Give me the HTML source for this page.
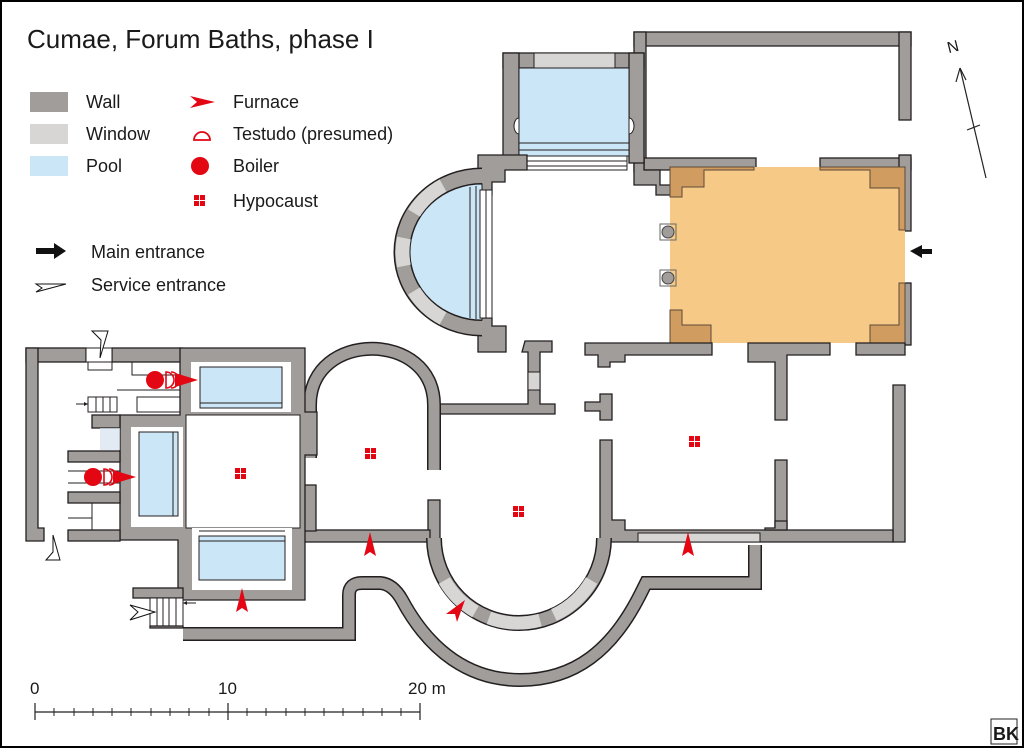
<!DOCTYPE html>
<html><head><meta charset="utf-8"><style>
html,body{margin:0;padding:0;background:#fff}
svg{display:block}
text{font-family:"Liberation Sans",sans-serif;fill:#1a1a1a}
.w{fill:#a19d9b;stroke:#231f20;stroke-width:1.3}
.win{fill:#d7d6d5;stroke:#231f20;stroke-width:1}
.p{fill:#cbe6f6;stroke:#231f20;stroke-width:1}
.wh{fill:#fff;stroke:#231f20;stroke-width:1}
.ln{stroke:#231f20;stroke-width:1;fill:none}
.r{fill:#e30613}
</style></head><body>
<svg width="1024" height="748" viewBox="0 0 1024 748" xmlns="http://www.w3.org/2000/svg">
<rect x="1" y="1" width="1022" height="746" fill="#fff" stroke="#000" stroke-width="2"/>
<text x="27" y="48" font-size="26">Cumae, Forum Baths, phase I</text>

<!-- legend -->
<rect x="30" y="92" width="38" height="20" fill="#a19d9b"/>
<rect x="30" y="124" width="38" height="20" fill="#d7d6d5"/>
<rect x="30" y="156" width="38" height="20" fill="#cbe6f6"/>
<text x="86" y="108" font-size="18">Wall</text>
<text x="86" y="140" font-size="18">Window</text>
<text x="86" y="172" font-size="18">Pool</text>
<path d="M190,96 L215,102 L190,108 L197,102 Z" class="r"/>
<path d="M194,140 A8,8 0 0 1 210,140 Z" fill="none" stroke="#e30613" stroke-width="1.8"/>
<circle cx="200" cy="166" r="9" class="r"/>
<g class="r"><rect x="194" y="195" width="5" height="5"/><rect x="200" y="195" width="5" height="5"/><rect x="194" y="201" width="5" height="5"/><rect x="200" y="201" width="5" height="5"/></g>
<text x="233" y="108" font-size="18">Furnace</text>
<text x="233" y="140" font-size="18">Testudo (presumed)</text>
<text x="233" y="172" font-size="18">Boiler</text>
<text x="233" y="207" font-size="18">Hypocaust</text>
<path d="M36,248 L54,248 L54,243 L66,251 L54,259 L54,254 L36,254 Z" fill="#111"/>
<text x="91" y="258" font-size="18">Main entrance</text>
<path d="M36,284 L66,284 L36,292 L42,288 Z" fill="#fff" stroke="#111" stroke-width="1"/>
<text x="91" y="291" font-size="18">Service entrance</text>

<!-- top right building -->
<rect class="w" x="634" y="32" width="277" height="14"/>
<rect class="w" x="899" y="32" width="12" height="88"/>
<rect class="w" x="634" y="32" width="12" height="140"/>
<rect class="w" x="644" y="158" width="112" height="12"/>
<rect class="w" x="820" y="158" width="91" height="12"/>
<rect class="w" x="899" y="155" width="12" height="76"/>
<rect class="w" x="899" y="283" width="12" height="62"/>
<path class="w" d="M634,160 L644,160 L644,170 L660,170 L660,185 L672,185 L672,195 L656,195 L656,185 L634,185 Z"/>

<!-- pool room top -->
<rect class="w" x="503" y="53" width="141" height="15"/>
<rect class="win" x="534" y="53" width="81" height="15"/>
<rect class="w" x="503" y="53" width="16" height="110"/>
<rect class="w" x="629" y="53" width="15" height="110"/>
<rect class="p" x="519" y="68" width="110" height="88"/>
<path class="ln" d="M519,143 L629,143 M519,150 L629,150"/>
<rect class="wh" x="527" y="156" width="100" height="14"/>
<path class="ln" d="M527,161 L627,161 M527,166 L627,166"/>
<path d="M519,118 A5,8 0 0 0 519,134 Z" fill="#fff" stroke="#231f20"/>
<path d="M629,118 A5,8 0 0 1 629,134 Z" fill="#fff" stroke="#231f20"/>
<path class="w" d="M478,155 L527,155 L527,170 L505,170 L505,182 L492,182 L492,195 L478,195 Z"/>
<path class="w" d="M478,318 L492,318 L492,326 L506,326 L506,352 L478,352 Z"/>

<!-- left apse with pool -->
<path d="M482,176 A80,76 0 0 0 482,328" fill="none" stroke="#231f20" stroke-width="17"/>
<path d="M482,176 A80,76 0 0 0 482,328" fill="none" stroke="#a19d9b" stroke-width="14"/>
<g fill="none" stroke="#d7d6d5" stroke-width="14">
<path d="M443,185.5 A80,76 0 0 0 414,213"/>
<path d="M404,238 A80,76 0 0 0 404,266"/>
<path d="M414,291 A80,76 0 0 0 443,318.5"/>
</g>
<path class="p" d="M482,184 A72,68 0 0 0 482,320 Z"/>
<path class="ln" d="M470,187 L470,318 M476,186 L476,319"/>
<rect class="wh" x="480" y="190" width="12" height="128"/>
<path class="ln" d="M486,190 L486,318"/>

<!-- orange vestibule -->
<rect x="670" y="167" width="235" height="176" fill="#f7c987"/>
<g fill="#d19c5f" stroke="#5b4a3a" stroke-width="1">
<path d="M670,167 L754,167 L754,170 L704,170 L704,187 L682,187 L682,197 L670,197 Z"/>
<path d="M820,167 L905,167 L905,230 L899,230 L899,188 L870,188 L870,170 L820,170 Z"/>
<path d="M670,310 L682,310 L682,325 L711,325 L711,343 L670,343 Z"/>
<path d="M870,325 L899,325 L899,283 L905,283 L905,343 L870,343 Z"/>
</g>
<rect x="660" y="224" width="16" height="16" fill="none" stroke="#666"/>
<circle cx="668" cy="232" r="6" fill="#a19d9b" stroke="#444"/>
<rect x="660" y="270" width="16" height="16" fill="none" stroke="#666"/>
<circle cx="668" cy="278" r="6" fill="#a19d9b" stroke="#444"/>
<path d="M910,251 L922,245 L922,249 L932,249 L932,254 L922,254 L922,258 Z" fill="#111"/>

<!-- walls below hall -->
<path class="w" d="M525,341 L552,341 L552,352 L540,352 L540,404 L555,404 L555,414 L440,414 L440,404 L528,404 L528,352 L522,352 Z"/>
<rect class="win" x="528" y="372" width="12" height="18"/>
<path class="w" d="M585,343 L712,343 L712,355 L625,355 L625,362 L610,362 L610,367 L598,367 L598,355 L585,355 Z"/>
<path class="w" d="M748,343 L830,343 L830,355 L787,355 L787,362 L787,420 L775,420 L775,362 L748,362 Z"/>
<path class="w" d="M856,343 L905,343 L905,355 L856,355 Z"/>
<path class="w" d="M600,394 L612,394 L612,420 L600,420 L600,411 L585,411 L585,402 L600,402 Z"/>
<path class="w" d="M775,460 L787,460 L787,528 L775,528 Z"/>
<path class="w" d="M893,385 L905,385 L905,542 L893,542 Z"/>
<path class="w" d="M600,440 L612,440 L612,520 L625,520 L625,530 L893,530 L893,542 L600,542 Z"/>
<path class="w" d="M765,528 L775,528 L775,521 L787,521 L787,530 L765,530 Z"/>
<rect class="win" x="638" y="533" width="122" height="9"/>

<!-- rounded middle room -->
<path d="M310,458 L310,405 C310,330 434,330 434,405 L434,470" fill="none" stroke="#231f20" stroke-width="14"/>
<path d="M310,458 L310,405 C310,330 434,330 434,405 L434,470" fill="none" stroke="#a19d9b" stroke-width="11"/>
<rect class="w" x="428" y="500" width="12" height="45"/>
<rect class="w" x="300" y="530" width="130" height="12"/>
<path class="w" d="M300,485 L316,485 L316,531 L300,531 Z"/>

<!-- bottom apse -->
<path d="M434,538 A85,85 0 0 0 604,538" fill="none" stroke="#231f20" stroke-width="16"/>
<path d="M434,538 A85,85 0 0 0 604,538" fill="none" stroke="#a19d9b" stroke-width="13"/>
<g fill="none" stroke="#d7d6d5" stroke-width="13">
<path d="M475.5,611.6 A85,85 0 0 1 444.4,580.5"/>
<path d="M540,620.1 A85,85 0 0 1 488.9,617.9"/>
<path d="M591.6,580.5 A85,85 0 0 1 553.9,615"/>
</g>

<!-- outer corridor -->
<path d="M183,634 L349,634 L349,595 Q349,583 362,583 L380,583 Q393,584 402,600 C430,652 470,680 520,680 C575,680 612,650 640,595 L646,583 L755,583 L755,545" fill="none" stroke="#231f20" stroke-width="14"/>
<path d="M183,634 L349,634 L349,595 Q349,583 362,583 L380,583 Q393,584 402,600 C430,652 470,680 520,680 C575,680 612,650 640,595 L646,583 L755,583 L755,545" fill="none" stroke="#a19d9b" stroke-width="11"/>

<!-- left wing -->
<rect class="w" x="26" y="348" width="60" height="14"/>
<rect class="w" x="112" y="348" width="70" height="14"/>
<path class="w" d="M26,348 L38,348 L38,528 L44,528 L44,541 L26,541 Z"/>
<rect class="wh" x="86" y="348" width="26" height="14"/>
<rect class="wh" x="88" y="362" width="24" height="8"/>
<path class="w" d="M180,348 L305,348 L305,412 L317,412 L317,455 L305,455 L305,540 L305,600 L178,600 L178,540 L120,540 L120,415 L180,415 Z"/>
<rect x="191" y="362" width="100" height="50" fill="#fff"/>
<rect class="p" x="200" y="367" width="82" height="41"/>
<path class="ln" d="M200,403 L282,403"/>
<rect x="131" y="427" width="52" height="100" fill="#fff"/>
<rect class="p" x="139" y="432" width="39" height="84"/>
<path class="ln" d="M173,432 L173,516"/>
<rect class="wh" x="186" y="415" width="114" height="113"/>
<rect x="192" y="528" width="100" height="62" fill="#fff"/>
<rect class="p" x="199" y="536" width="86" height="44"/>
<path class="ln" d="M199,541 L285,541 M199,531 L285,531"/>
<rect class="w" x="92" y="415" width="28" height="13"/>
<rect class="w" x="68" y="451" width="52" height="11"/>
<rect class="w" x="68" y="492" width="52" height="11"/>
<rect class="w" x="68" y="530" width="52" height="11"/>
<rect x="100" y="428" width="20" height="22" fill="#d6e2f0" opacity=".7"/>
<path class="ln" d="M68,462 L120,462 M68,471 L120,471 M68,483 L120,483 M68,503 L92,503 L92,530 M68,518 L92,518"/>
<path class="ln" d="M132,362 L180,362 L180,375 L132,375 Z M117,390 L180,390 M137,397 L180,397 L180,412 L137,412 Z M88,397 L117,397 L117,412 L88,412 Z M96,397 L96,412 M103,397 L103,412 M110,397 L110,412"/>
<path class="ln" d="M76,404 L88,404"/><path d="M88,404 L84,402 L84,406 Z" fill="#231f20"/>
<rect class="w" x="133" y="588" width="50" height="10"/>
<rect class="wh" x="150" y="598" width="33" height="30"/>
<path class="ln" d="M157,598 L157,628 M163,598 L163,628 M169,598 L169,628 M176,598 L176,628"/>
<path class="w" d="M150,626 L183,626 L183,628 L150,628 Z"/>
<path class="ln" d="M183,603 L196,603"/><path d="M183,603 L187,601 L187,605 Z" fill="#231f20"/>
<!-- service entrances -->
<path d="M92,331 L108,331 L100,358 L101,340 Z" fill="#fff" stroke="#111"/>
<path d="M46,560 L60,560 L53,535 L53,552 Z" fill="#fff" stroke="#111"/>
<path d="M130,605 L155,612 L130,620 L138,612 Z" fill="#fff" stroke="#111"/>
<!-- boilers / furnaces -->
<circle cx="155" cy="380" r="9" class="r"/>
<path d="M166,372 A8,8 0 0 1 166,388 Z M171,372 A8,8 0 0 1 171,388" fill="none" stroke="#e30613" stroke-width="1.6"/>
<path d="M175,373 L198,380 L175,387 Z" class="r"/>
<circle cx="93" cy="477" r="9" class="r"/>
<path d="M104,469 A8,8 0 0 1 104,485 Z M109,469 A8,8 0 0 1 109,485" fill="none" stroke="#e30613" stroke-width="1.6"/>
<path d="M113,470 L136,477 L113,484 Z" class="r"/>
<path d="M370,532 L376,556 L370,552 L364,556 Z" class="r"/>
<path d="M688,532 L694,556 L688,552 L682,556 Z" class="r"/>
<path d="M242,588 L248,612 L242,608 L236,612 Z" class="r"/>
<path d="M465,600 L457,622 L455,614 L446,614 Z" class="r"/>

<!-- hypocausts -->
<g class="r">
<rect x="235" y="468" width="5" height="5"/><rect x="241" y="468" width="5" height="5"/><rect x="235" y="474" width="5" height="5"/><rect x="241" y="474" width="5" height="5"/>
<rect x="365" y="448" width="5" height="5"/><rect x="371" y="448" width="5" height="5"/><rect x="365" y="454" width="5" height="5"/><rect x="371" y="454" width="5" height="5"/>
<rect x="513" y="506" width="5" height="5"/><rect x="519" y="506" width="5" height="5"/><rect x="513" y="512" width="5" height="5"/><rect x="519" y="512" width="5" height="5"/>
<rect x="689" y="436" width="5" height="5"/><rect x="695" y="436" width="5" height="5"/><rect x="689" y="442" width="5" height="5"/><rect x="695" y="442" width="5" height="5"/>
</g>

<!-- scale -->
<text x="30" y="694" font-size="17">0</text>
<text x="218" y="694" font-size="17">10</text>
<text x="408" y="694" font-size="17">20 m</text>
<path d="M35,712 L420,712 M35,703 L35,720 M228,703 L228,720 M420,703 L420,720" stroke="#222" stroke-width="1.2"/>
<path d="M54,708 L54,716 M74,708 L74,716 M93,708 L93,716 M112,708 L112,716 M131,708 L131,716 M151,708 L151,716 M170,708 L170,716 M189,708 L189,716 M209,708 L209,716 M247,708 L247,716 M266,708 L266,716 M286,708 L286,716 M305,708 L305,716 M324,708 L324,716 M343,708 L343,716 M363,708 L363,716 M382,708 L382,716 M401,708 L401,716" stroke="#222" stroke-width="1"/>

<!-- north -->
<text x="947" y="52" font-size="16" transform="rotate(-14 953 46)">N</text>
<path d="M960,68 L986,178 M967,130 L980,125" stroke="#222" stroke-width="1.2" fill="none"/>
<path d="M960,68 L956,82 M960,68 L966,80" stroke="#222" stroke-width="1.2" fill="none"/>

<!-- logo -->
<rect x="991" y="719" width="26" height="25" fill="#fff" stroke="#222" stroke-width="1"/>
<text x="993" y="740" font-size="18" font-weight="bold">BK</text>
</svg>
</body></html>
